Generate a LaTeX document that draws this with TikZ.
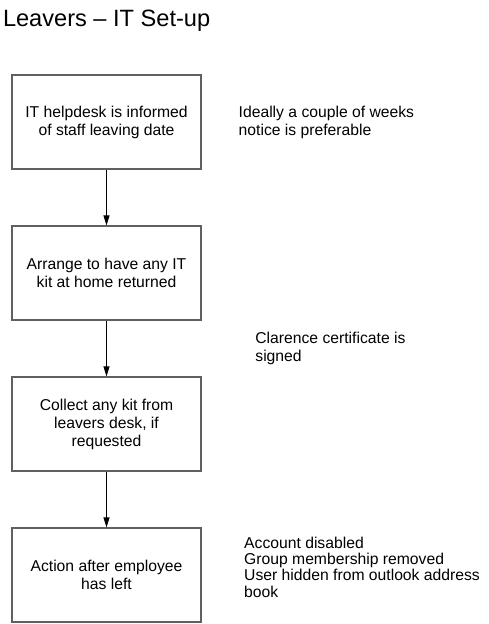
\documentclass[tikz,border=0pt]{standalone}
\usepackage{fontspec}
\setmainfont{Liberation Sans}
\usetikzlibrary{arrows.meta}
\definecolor{boxgray}{RGB}{96,96,96}
\begin{document}
\begin{tikzpicture}[x=1pt,y=1pt,
    stagebox/.style={draw=boxgray, line width=1.2pt, minimum width=189pt, minimum height=94pt,
        inner sep=0pt, align=center, font=\fontsize{15.7}{18}\selectfont},
    note/.style={inner sep=0pt, align=left, font=\fontsize{15.7}{18}\selectfont},
    flow/.style={-{Triangle[length=10pt,width=6pt]}, line width=0.9pt}]
    \useasboundingbox (0,0) rectangle (489,-624);

    % Title
    \node[anchor=base west, inner sep=0pt, font=\fontsize{23.6}{28}\selectfont] (title) at (2.8,-26) {Leavers \textendash{} IT Set-up};

    % Steps
    \node[stagebox] (inform) at (106.5,-122) {IT helpdesk is informed\\of staff leaving date};
    \node[stagebox] (arrange) at (106.5,-273) {Arrange to have any IT\\kit at home returned};
    \node[stagebox] (collect) at (106.5,-424) {Collect any kit from\\leavers desk, if\\requested};
    \node[stagebox] (action) at (106.5,-575) {Action after employee\\has left};

    % Flow
    \draw[flow] (inform) -- (arrange);
    \draw[flow] (arrange) -- (collect);
    \draw[flow] (collect) -- (action);

    % Notes
    \node[note, anchor=west] (notice) at (238.5,-122) {Ideally a couple of weeks\\notice is preferable};
    \node[note, anchor=west] (clarence) at (255.2,-348) {Clarence certificate is\\signed};
    \node[note, anchor=north west, font=\fontsize{15.7}{16.4}\selectfont] (actions) at (244,-536.6)
        {Account disabled\\Group membership removed\\User hidden from outlook address\\book};
\end{tikzpicture}
\end{document}
